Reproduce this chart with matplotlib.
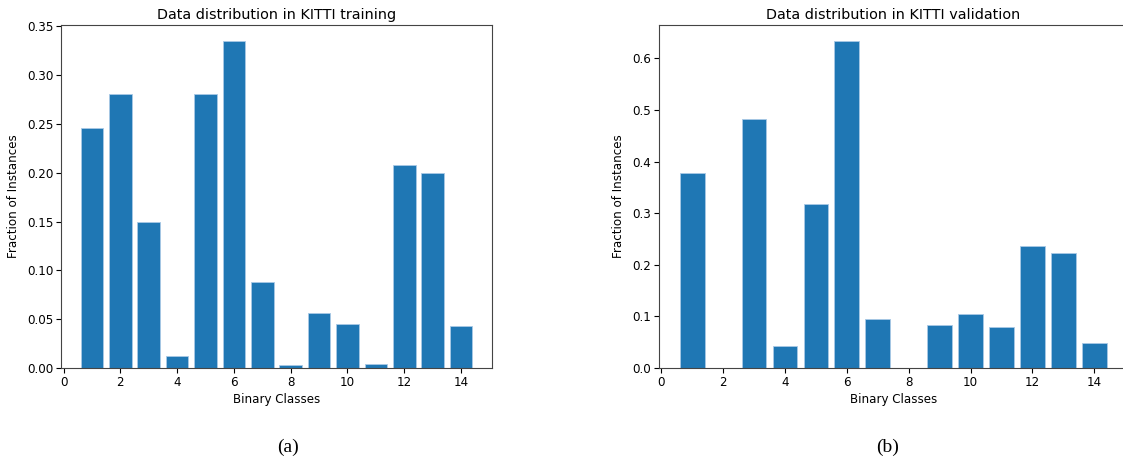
import matplotlib
matplotlib.use("Agg")
import matplotlib.pyplot as plt

classes = list(range(1, 15))
train_frac = [0.246, 0.281, 0.150, 0.012, 0.281, 0.335, 0.088,
              0.003, 0.056, 0.045, 0.0045, 0.208, 0.200, 0.043]
val_frac = [0.378, 0.0, 0.483, 0.042, 0.318, 0.634, 0.094,
            0.0, 0.084, 0.104, 0.080, 0.237, 0.222, 0.048]

titles = ["Data distribution in KITTI training", "Data distribution in KITTI validation"]
captions = ["(a)", "(b)"]
xticks = [0, 2, 4, 6, 8, 10, 12, 14]

W, H = 1123, 463
fig = plt.figure(figsize=(W / 100, H / 100), dpi=100)
plt.rcParams['font.family'] = ['DejaVu Sans']

fs = 8.6
ax1 = fig.add_axes([61 / W, (H - 368) / H, (492 - 61) / W, (368 - 24.5) / H])
ax2 = fig.add_axes([658.5 / W, (H - 368) / H, (1128 - 658.5) / W, (368 - 24.5) / H])

for ax, vals, title in [(ax1, train_frac, titles[0]), (ax2, val_frac, titles[1])]:
    ax.bar(classes, vals, color="#1f77b4", edgecolor="#a9c9e6", linewidth=0.6)
    ax.set_title(title, fontsize=10.4, pad=4)
    ax.set_xlabel("Binary Classes", fontsize=fs, labelpad=3)
    ax.set_ylabel("Fraction of Instances", fontsize=fs, labelpad=5)
    ax.set_xticks(xticks)
    ax.tick_params(labelsize=fs, length=3.5, pad=2)
    for s in ax.spines.values():
        s.set_color("#444444")

ax2.spines['right'].set_visible(False)

fig.text(288 / W, 1 - 447 / H, captions[0], ha="center", va="center",
         fontsize=14, family="Liberation Serif")
fig.text(888 / W, 1 - 447 / H, captions[1], ha="center", va="center",
         fontsize=14, family="Liberation Serif")

fig.savefig("out.png", dpi=100)
